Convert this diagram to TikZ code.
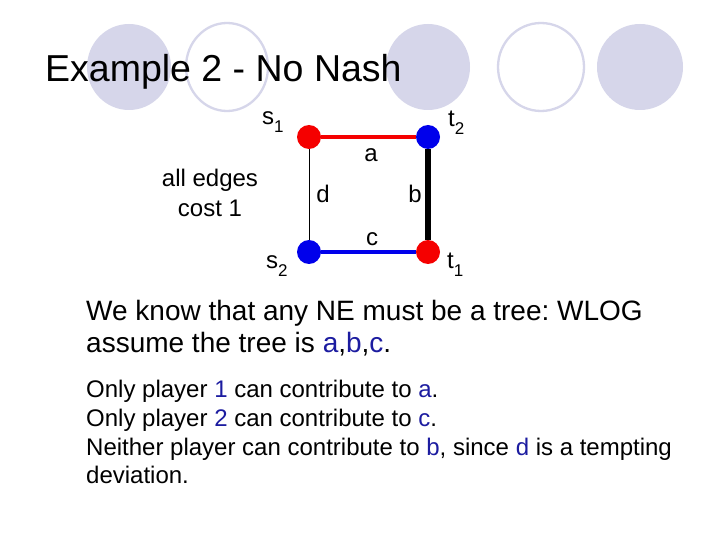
\documentclass[tikz,border=0pt]{standalone}
\usepackage{fontspec}
\setmainfont{Liberation Sans}
\usetikzlibrary{positioning}
\frenchspacing
\definecolor{deco}{RGB}{214,214,234}
\definecolor{vred}{RGB}{245,0,0}
\definecolor{vblue}{RGB}{0,0,235}
\definecolor{txtblue}{RGB}{28,28,160}
\tikzset{
  redv/.style={draw=none,shape=circle,fill=vred,minimum size=24pt,inner sep=0pt},
  bluev/.style={draw=none,shape=circle,fill=vblue,minimum size=24pt,inner sep=0pt},
  lbl/.style={inner sep=0pt,font=\fontsize{24}{29}\selectfont},
  bigline/.style={anchor=base west,inner sep=0pt,font=\fontsize{28}{33}\selectfont},
  smallline/.style={anchor=base west,inner sep=0pt,font=\fontsize{24}{29}\selectfont},
  decofill/.style={fill=deco,draw=none},
  decoring/.style={draw=deco,line width=2.3pt,fill=white}
 }
\newcommand{\hl}[1]{\textcolor{txtblue}{#1}}
\newcommand{\lowsub}[1]{\raisebox{-8pt}{\fontsize{17}{20}\selectfont #1}}

\begin{document}
\begin{tikzpicture}[x=1pt,y=-1pt]
    \useasboundingbox[fill=white] (0,0) rectangle (720,540);
    % title bar circles
    \fill[decofill] (129,67) ellipse (42 and 43);
    \draw[decoring] (227,67) ellipse (41 and 44);
    \fill[decofill] (428,67) ellipse (42 and 43);
    \draw[decoring] (541,67) ellipse (43 and 44);
    \fill[decofill] (640,67) ellipse (43 and 43);
    \node[anchor=base west,inner sep=0pt,font=\fontsize{37.5}{45}\selectfont] (title) at (45,82) {Example 2 - No Nash};
    % the graph
    \node[redv] (s1) at (309,137) {};
    \node[bluev] (t2) at (428,137) {};
    \node[bluev] (s2) at (309,252) {};
    \node[redv] (t1) at (428,252) {};
    \draw[vred,line width=4pt] (s1) -- (t2);
    \draw[black,line width=5.5pt] (t2) -- (t1);
    \draw[vblue,line width=4pt] (s2) -- (t1);
    \draw[black,line width=0.8pt] (s1) -- (s2);
    \node[lbl,anchor=base] (la) at (371,162) {a};
    \node[lbl,anchor=base] (lb) at (415,203) {b};
    \node[lbl,anchor=base] (lc) at (372,245) {c};
    \node[lbl,anchor=base] (ld) at (323,203) {d};
    \node[lbl,anchor=base west] (ns1) at (262,125) {s\lowsub{1}};
    \node[lbl,anchor=base west] (nt2) at (448,127) {t\lowsub{2}};
    \node[lbl,anchor=base west] (ns2) at (266,268) {s\lowsub{2}};
    \node[lbl,anchor=base west] (nt1) at (447,268) {t\lowsub{1}};
    \node[lbl,anchor=base] (cost1) at (210,187) {all edges};
    \node[lbl,anchor=base] (cost2) at (210,217) {cost 1};
    % the argument
    \node[bigline] (p1) at (86,320) {We know that any NE must be a tree: WLOG};
    \node[bigline] (p2) at (86,352) {assume the tree is \hl{a},\hl{b},\hl{c}.};
    \node[smallline] (q1) at (86,397) {Only player \hl{1} can contribute to \hl{a}.};
    \node[smallline] (q2) at (86,426) {Only player \hl{2} can contribute to \hl{c}.};
    \node[smallline] (q3) at (86,455) {Neither player can contribute to \hl{b}, since \hl{d} is a tempting};
    \node[smallline] (q4) at (86,483) {deviation.};
\end{tikzpicture}
\end{document}
